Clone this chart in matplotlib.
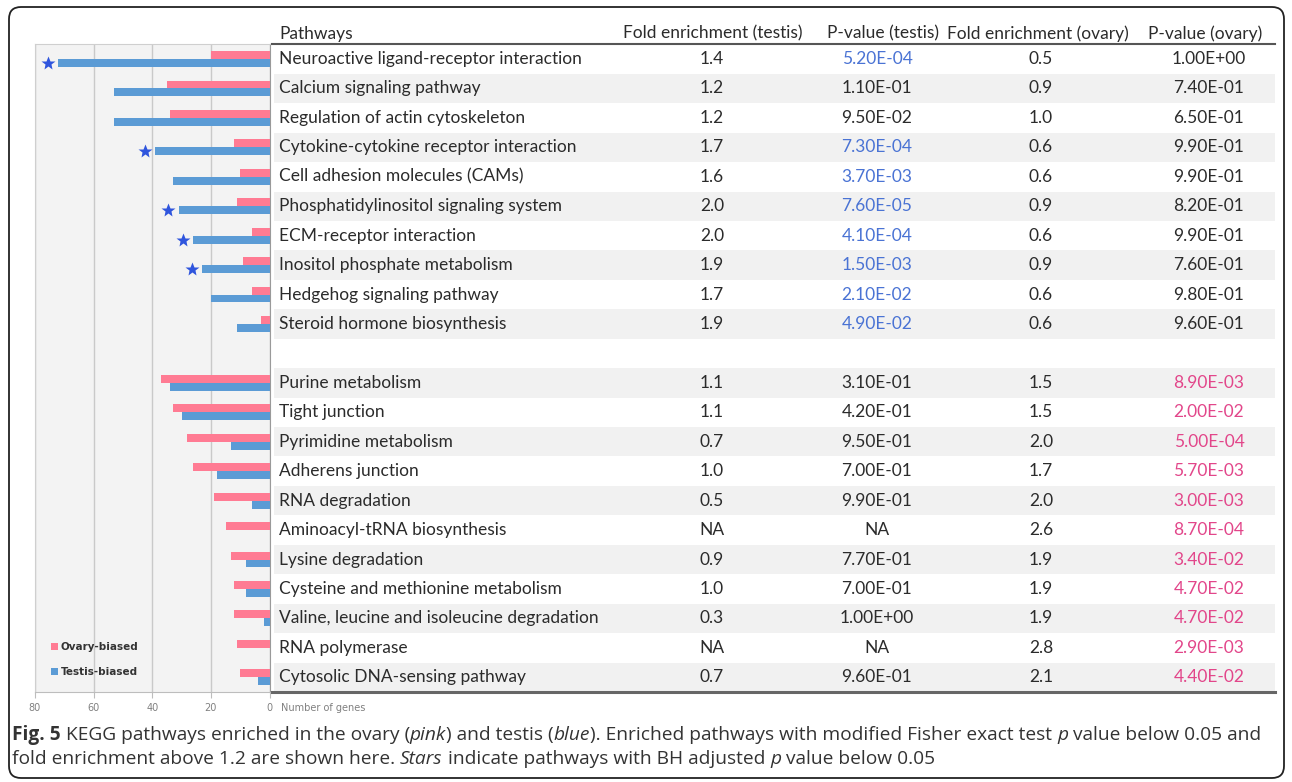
import numpy as np
import matplotlib
matplotlib.use("Agg")
import matplotlib.pyplot as plt
import matplotlib.patches as mpatches
from matplotlib.transforms import IdentityTransform

# KEGG pathways, testis-biased group first, blank spacer row, then ovary-biased group
pathways = ["Neuroactive ligand-receptor interaction", "Calcium signaling pathway",
            "Regulation of actin cytoskeleton", "Cytokine-cytokine receptor interaction",
            "Cell adhesion molecules (CAMs)", "Phosphatidylinositol signaling system",
            "ECM-receptor interaction", "Inositol phosphate metabolism",
            "Hedgehog signaling pathway", "Steroid hormone biosynthesis", "",
            "Purine metabolism", "Tight junction", "Pyrimidine metabolism",
            "Adherens junction", "RNA degradation", "Aminoacyl-tRNA biosynthesis",
            "Lysine degradation", "Cysteine and methionine metabolism",
            "Valine, leucine and isoleucine degradation", "RNA polymerase",
            "Cytosolic DNA-sensing pathway"]

ovary_genes = [20, 35, 34, 12, 10, 11, 6, 9, 6, 3, np.nan,
               37, 33, 28, 26, 19, 15, 13, 12, 12, 11, 10]
testis_genes = [72, 53, 53, 39, 33, 31, 26, 23, 20, 11, np.nan,
                34, 30, 13, 18, 6, 0, 8, 8, 2, 0, 4]

fe_testis = ["1.4", "1.2", "1.2", "1.7", "1.6", "2.0", "2.0", "1.9", "1.7", "1.9", "",
             "1.1", "1.1", "0.7", "1.0", "0.5", "NA", "0.9", "1.0", "0.3", "NA", "0.7"]
p_testis = ["5.20E-04", "1.10E-01", "9.50E-02", "7.30E-04", "3.70E-03", "7.60E-05",
            "4.10E-04", "1.50E-03", "2.10E-02", "4.90E-02", "",
            "3.10E-01", "4.20E-01", "9.50E-01", "7.00E-01", "9.90E-01", "NA",
            "7.70E-01", "7.00E-01", "1.00E+00", "NA", "9.60E-01"]
fe_ovary = ["0.5", "0.9", "1.0", "0.6", "0.6", "0.9", "0.6", "0.9", "0.6", "0.6", "",
            "1.5", "1.5", "2.0", "1.7", "2.0", "2.6", "1.9", "1.9", "1.9", "2.8", "2.1"]
p_ovary = ["1.00E+00", "7.40E-01", "6.50E-01", "9.90E-01", "9.90E-01", "8.20E-01",
           "9.90E-01", "7.60E-01", "9.80E-01", "9.60E-01", "",
           "8.90E-03", "2.00E-02", "5.00E-04", "5.70E-03", "3.00E-03", "8.70E-04",
           "3.40E-02", "4.70E-02", "4.70E-02", "2.90E-03", "4.40E-02"]

# pathways with BH adjusted p below 0.05
starred = ["Neuroactive ligand-receptor interaction", "Cytokine-cytokine receptor interaction",
           "Phosphatidylinositol signaling system", "ECM-receptor interaction",
           "Inositol phosphate metabolism"]

headers = ["Pathways", "Fold enrichment (testis)", "P-value (testis)",
           "Fold enrichment (ovary)", "P-value (ovary)"]

PINK = "#ff7b93"
BLUE = "#5b9bd5"
STAR = "#2f55dd"
TXT_BLUE = "#4a73d4"
TXT_PINK = "#e2468a"
TXT = "#2b2b2b"

W, H = 1292, 782
fig = plt.figure(figsize=(W / 100, H / 100), dpi=100)
fig.patch.set_facecolor("white")

n = len(pathways)
y = np.arange(n)
top_px, bot_px = 44.3, 692

# bar chart on the left, x axis runs 80 -> 0
ax = fig.add_axes([35 / W, (H - bot_px) / H, 234.5 / W, (bot_px - top_px) / H])
ax.set_facecolor("#f3f3f3")
h = 0.27
ax.barh(y - h / 2, ovary_genes, height=h, color=PINK, label="Ovary-biased", zorder=3)
ax.barh(y + h / 2, testis_genes, height=h, color=BLUE, label="Testis-biased", zorder=3)
for i, name in enumerate(pathways):
    if name in starred:
        ax.plot(testis_genes[i] + 3.5, i + h / 2, marker="*", color=STAR, ms=10,
                mec="none", zorder=4)
ax.set_xlim(80, 0)
ax.set_ylim(n - 0.5, -0.5)
ax.set_xticks([80, 60, 40, 20, 0])
ax.set_yticks([])
ax.grid(axis="x", color="#c9c9c9", lw=1, zorder=1)
for s in ax.spines.values():
    s.set_color("#cfcfcf")
ax.spines["bottom"].set_color("#bdbdbd")
ax.spines["right"].set_color("#9a9a9a")
ax.tick_params(axis="x", length=4, color="#bdbdbd", labelsize=7, labelcolor="#808080", pad=4)
ax.annotate("Number of genes", xy=(0, 0), xycoords=("data", "axes fraction"),
            xytext=(8, -11.5), textcoords="offset points", fontsize=7, color="#808080",
            va="center", ha="left", annotation_clip=False)
leg = ax.legend(loc="lower left", bbox_to_anchor=(0.03, 0.008), frameon=False,
                handlelength=0.6, handleheight=0.6, handletextpad=0.3, labelspacing=1.45,
                prop={"size": 7.5, "weight": "bold"})
for t in leg.get_texts():
    t.set_color("#333333")

# table on the right, x in pixel units
ax_t = fig.add_axes([272 / W, (H - bot_px) / H, (1278 - 272) / W, (bot_px - top_px) / H])
ax_t.set_xlim(272, 1278)
ax_t.set_ylim(n - 0.5, -0.5)
ax_t.axis("off")
for i in range(n):
    if i % 2 == 1:
        ax_t.fill_between([274, 1275], i - 0.5, i + 0.5, color="#f1f1f1", lw=0, zorder=0)
ax_t.plot([272, 1275], [-0.5, -0.5], color="#555555", lw=1.5, clip_on=False)
ax_t.plot([272, 1275], [n - 0.5, n - 0.5], color="#666666", lw=2.2, clip_on=False)

font = "Lato"
fs = 12.5
val_x = [712, 877, 1041, 1209]
head_x = [713, 883, 1038, 1205]
ax_t.text(279, -0.86, headers[0], ha="left", va="center", fontsize=fs, family=font,
          color=TXT, clip_on=False)
for hx, lab in zip(head_x, headers[1:]):
    ax_t.text(hx, -0.86, lab, ha="center", va="center", fontsize=fs, family=font,
              color=TXT, clip_on=False)

for i in range(n):
    if pathways[i] == "":
        continue
    ax_t.text(279, i, pathways[i], ha="left", va="center", fontsize=fs, family=font, color=TXT)
    pt_col = TXT_BLUE if p_testis[i] != "NA" and float(p_testis[i]) < 0.05 else TXT
    po_col = TXT_PINK if p_ovary[i] != "NA" and float(p_ovary[i]) < 0.05 else TXT
    cells = [(fe_testis[i], TXT), (p_testis[i], pt_col), (fe_ovary[i], TXT), (p_ovary[i], po_col)]
    for cx, (val, col) in zip(val_x, cells):
        ax_t.text(cx, i, val, ha="center", va="center", fontsize=fs, family=font, color=col)

# caption with mixed bold / italic pieces
renderer = fig.canvas.get_renderer()
cap_font = "Open Sans"
cap_fs = 13.75


def piece_width(s, **kw):
    a = fig.text(0, 0, "|" + s + "|", fontsize=cap_fs, family=cap_font, **kw)
    b = fig.text(0, 0, "||", fontsize=cap_fs, family=cap_font, **kw)
    w = a.get_window_extent(renderer).width - b.get_window_extent(renderer).width
    a.remove()
    b.remove()
    return w


caption = [
    [("Fig. 5", "bold", "normal"), (" KEGG pathways enriched in the ovary (", "normal", "normal"),
     ("pink", "normal", "italic"), (") and testis (", "normal", "normal"),
     ("blue", "normal", "italic"),
     ("). Enriched pathways with modified Fisher exact test ", "normal", "normal"),
     ("p", "normal", "italic"), (" value below 0.05 and", "normal", "normal")],
    [("fold enrichment above 1.2 are shown here. ", "normal", "normal"),
     ("Stars", "normal", "italic"), (" indicate pathways with BH adjusted ", "normal", "normal"),
     ("p", "normal", "italic"), (" value below 0.05", "normal", "normal")],
]
for line, ypx in zip(caption, [735, 759]):
    xpx = 12
    for s, weight, style in line:
        fig.text(xpx / W, 1 - ypx / H, s, fontsize=cap_fs, family=cap_font, weight=weight,
                 style=style, color="#333333", va="center", ha="left")
        xpx += piece_width(s, weight=weight, style=style)

# rounded outer frame
frame = mpatches.FancyBboxPatch((9, 4), 1275, 771, boxstyle="round,pad=0,rounding_size=12",
                                transform=IdentityTransform(), fill=False, ec="#222222", lw=1.3)
fig.patches.append(frame)

fig.savefig("out.png", dpi=100)
